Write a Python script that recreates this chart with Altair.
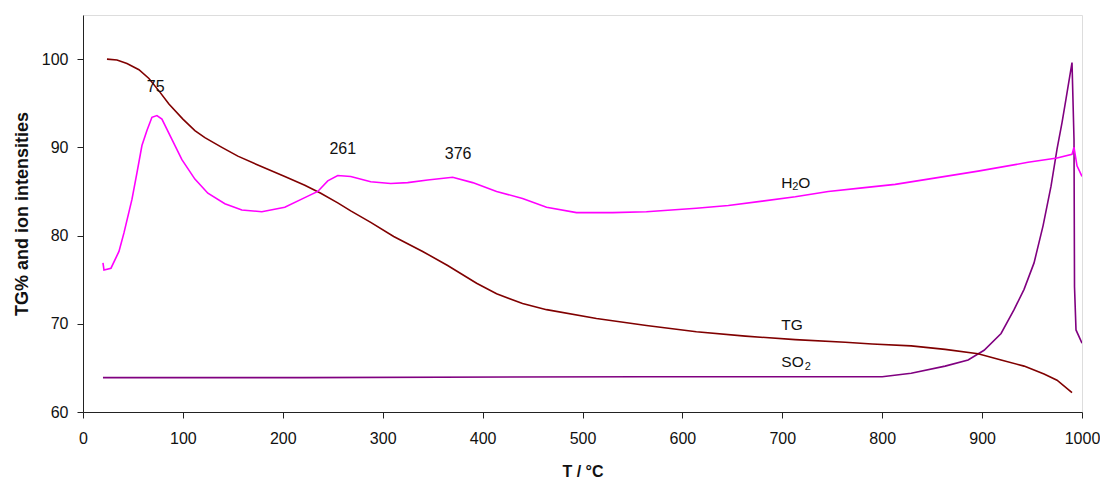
import altair as alt
import pandas as pd

# ---- data ----
tg_T = [24, 34, 44, 56, 66, 76, 86, 100, 112, 122, 139, 155, 175, 202, 222, 238, 255, 268, 288, 311,
        340, 365, 394, 414, 440, 464, 514, 564, 614, 663, 713, 763, 790, 829, 863, 896, 919, 942, 962, 975, 990]
tg_v = [100, 99.9, 99.5, 98.8, 97.8, 96.4, 94.9, 93.2, 91.9, 91.1, 90.0, 89.0, 88.0, 86.7, 85.7, 84.8, 83.7, 82.8, 81.5, 79.9,
        78.2, 76.6, 74.6, 73.4, 72.3, 71.6, 70.6, 69.8, 69.1, 68.6, 68.2, 67.9, 67.7, 67.5, 67.1, 66.6, 65.9, 65.2, 64.3, 63.6, 62.2]

h2o_T = [20, 21, 28, 36, 41, 49, 54, 59, 64, 69, 74, 79, 89, 99, 112, 125, 142, 159, 179, 202, 222, 235, 245, 255, 268,
         288, 308, 325, 345, 370, 390, 414, 440, 464, 494, 530, 564, 614, 646, 680, 713, 746, 780, 813, 846, 896, 946,
         975, 990, 992, 995, 1000]
h2o_v = [76.9, 76.1, 76.3, 78.2, 80.3, 84.1, 87.1, 90.2, 91.9, 93.4, 93.6, 93.2, 90.9, 88.6, 86.4, 84.8, 83.6, 82.9, 82.7,
         83.2, 84.3, 85.0, 86.2, 86.8, 86.7, 86.1, 85.9, 86.0, 86.3, 86.6, 86.0, 85.0, 84.2, 83.2, 82.6, 82.6, 82.7, 83.1,
         83.4, 83.9, 84.4, 85.0, 85.4, 85.8, 86.4, 87.3, 88.3, 88.8, 89.2, 90.0, 87.9, 86.7]

so2_T = [20, 220, 560, 800, 829, 863, 886, 902, 919, 932, 942, 952, 961, 969, 975, 980, 984, 990, 992, 992.5, 994, 1000]
so2_v = [63.9, 63.9, 64.0, 64.0, 64.4, 65.2, 65.9, 67.0, 68.9, 71.6, 73.9, 76.9, 81.1, 85.6, 89.8, 92.8, 95.5, 99.6,
         90.9, 74.2, 69.3, 67.8]

peak_labels = ["75", "261", "376"]
peak_T = [72.7, 260, 375.5]
peak_v = [96.8, 89.8, 89.2]

name_labels = ["H", "TG", "SO"]
name_T = [699, 699, 699]
name_v = [86.0, 69.9, 65.7]
sub_T = [710, 722.5]
sub_v = [85.5, 65.1]
o_T = [716]
o_v = [86.0]

FONT = "Liberation Sans"

def series(T, v, name):
    return pd.DataFrame({"T": T, "v": v, "s": name, "o": list(range(len(T)))})

x_enc = alt.X("T:Q", scale=alt.Scale(domain=[0, 1000], nice=False),
              axis=alt.Axis(title="T / °C", values=list(range(0, 1001, 100)), format="d", grid=False,
                            labelFlush=False,
                            labelFontSize=16, titleFontSize=16, titleFont=FONT, labelFont=FONT,
                            titleFontWeight="bold", labelPadding=12, titlePadding=17,
                            tickSize=6, domainColor="#222", tickColor="#222",
                            labelColor="#111", titleColor="#111"))
y_enc = alt.Y("v:Q", scale=alt.Scale(domain=[60, 105], nice=False),
              axis=alt.Axis(title="TG% and ion intensities", values=[60, 70, 80, 90, 100], grid=False,
                            labelFlush=False,
                            labelFontSize=16, titleFontSize=18, titleFont=FONT, labelFont=FONT,
                            titleFontWeight="bold", labelPadding=9, titlePadding=10,
                            tickSize=6, domainColor="#222", tickColor="#222",
                            labelColor="#111", titleColor="#111"))

def line(df, color):
    return alt.Chart(df).mark_line(color=color, strokeWidth=1.6, clip=True).encode(
        x=x_enc, y=y_enc, order="o:Q")

tg = line(series(tg_T, tg_v, "TG"), "#800000")
h2o = line(series(h2o_T, h2o_v, "H2O"), "#ff00ff")
so2 = line(series(so2_T, so2_v, "SO2"), "#800080")

def texts(labels, T, v, size, align):
    df = pd.DataFrame({"T": T, "v": v, "t": labels})
    return alt.Chart(df).mark_text(font=FONT, fontSize=size, align=align, baseline="middle",
                                   color="#111").encode(x="T:Q", y="v:Q", text="t:N")

peaks = texts(peak_labels, peak_T, peak_v, 16, "center")
names = texts(name_labels, name_T, name_v, 15.5, "left")
subs = texts(["2", "2"], sub_T, sub_v, 11, "left")
os_ = texts(["O"], o_T, o_v, 15.5, "left")

chart = alt.layer(so2, tg, h2o, peaks, names, subs, os_).properties(
    width=999, height=397,
    autosize=alt.AutoSizeParams(type="none"),
    padding={"left": 75, "top": 7, "right": 18, "bottom": 66},
).configure_view(stroke="#333", strokeWidth=1).configure(background="white")

chart.save("out.html", embed_options={"renderer": "svg", "actions": False})
